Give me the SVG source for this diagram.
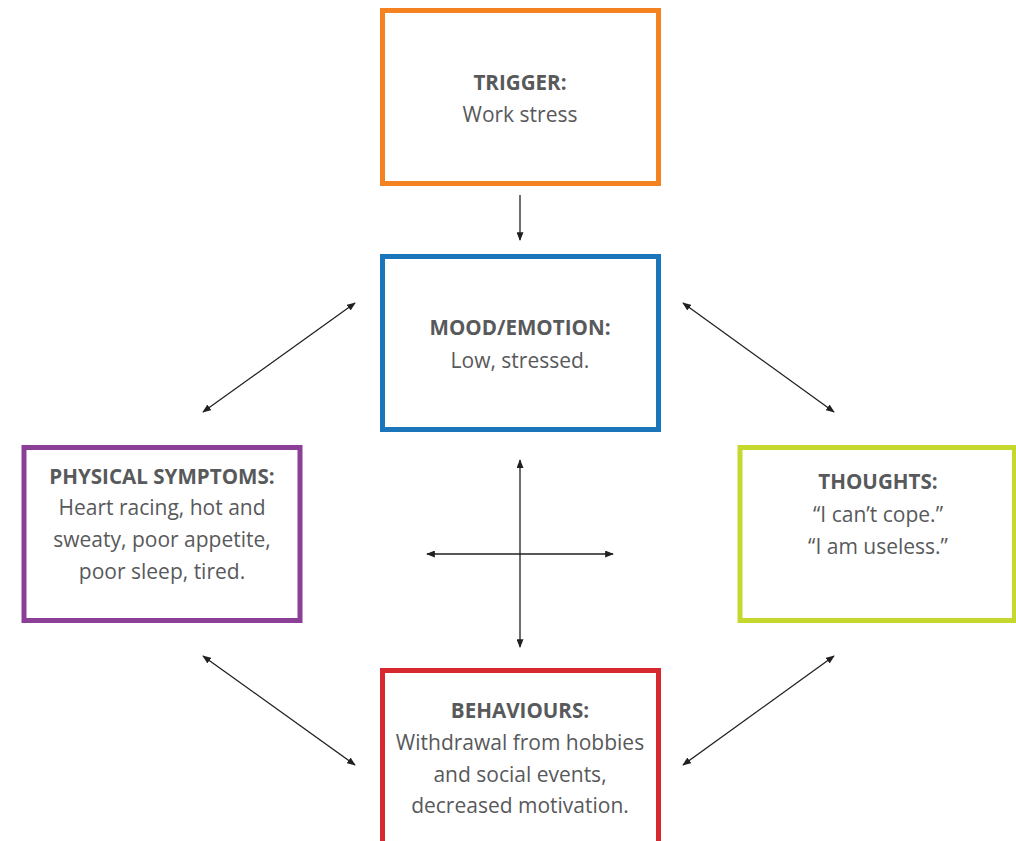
<svg xmlns="http://www.w3.org/2000/svg" width="1016" height="841" viewBox="0 0 1016 841">
<defs>
<style>
.box{fill:#fff;stroke-width:5}
.t{font-family:"Open Sans","Liberation Sans",sans-serif;font-size:21px;fill:#58595b;text-anchor:middle}
.b{font-weight:bold;font-size:20.6px}
.c{stroke:#231f20;stroke-width:1.3;fill:none;marker-end:url(#ah)}
.d{marker-start:url(#ah)}
</style>
<marker id="ah" viewBox="0 0 10 8" refX="9" refY="4" markerWidth="9" markerHeight="7" markerUnits="userSpaceOnUse" orient="auto-start-reverse">
<path d="M0,0 L10,4 L0,8 z" fill="#231f20"/>
</marker>
</defs>
<rect width="1016" height="841" fill="#fff"/>
<g id="connectors">
<line class="c" x1="520" y1="195" x2="520" y2="240"/>
<line class="c d" x1="203" y1="412" x2="355" y2="303"/>
<line class="c d" x1="683" y1="303" x2="834" y2="412"/>
<line class="c d" x1="203" y1="656" x2="355" y2="765"/>
<line class="c d" x1="683" y1="765" x2="834" y2="656"/>
<line class="c d" x1="520" y1="460" x2="520" y2="647"/>
<line class="c d" x1="427" y1="554" x2="613" y2="554"/>
</g>
<g id="trigger">
<rect class="box" x="382.5" y="10.5" width="276" height="173" stroke="#f58220"/>
<text class="t b" x="520" y="90">TRIGGER:</text>
<text class="t" x="520" y="122">Work stress</text>
</g>
<g id="mood">
<rect class="box" x="382.5" y="256.5" width="276" height="173" stroke="#1a75bb"/>
<text class="t b" x="520" y="335">MOOD/EMOTION:</text>
<text class="t" x="520" y="368">Low, stressed.</text>
</g>
<g id="physical">
<rect class="box" x="24" y="447.5" width="276" height="173" stroke="#8b3f97"/>
<text class="t b" x="162" y="484">PHYSICAL SYMPTOMS:</text>
<text class="t" x="162" y="515">Heart racing, hot and</text>
<text class="t" x="162" y="547">sweaty, poor appetite,</text>
<text class="t" x="162" y="579">poor sleep, tired.</text>
</g>
<g id="thoughts">
<rect class="box" x="740" y="447.5" width="274.5" height="173" stroke="#c4d82e"/>
<text class="t b" x="878" y="489">THOUGHTS:</text>
<text class="t" x="878" y="522">“I can’t cope.”</text>
<text class="t" x="878" y="554">“I am useless.”</text>
</g>
<g id="behaviours">
<rect class="box" x="382.5" y="670.5" width="276" height="200" stroke="#d7282f"/>
<text class="t b" x="520" y="718">BEHAVIOURS:</text>
<text class="t" x="520" y="750">Withdrawal from hobbies</text>
<text class="t" x="520" y="782">and social events,</text>
<text class="t" x="520" y="813">decreased motivation.</text>
</g>
</svg>
